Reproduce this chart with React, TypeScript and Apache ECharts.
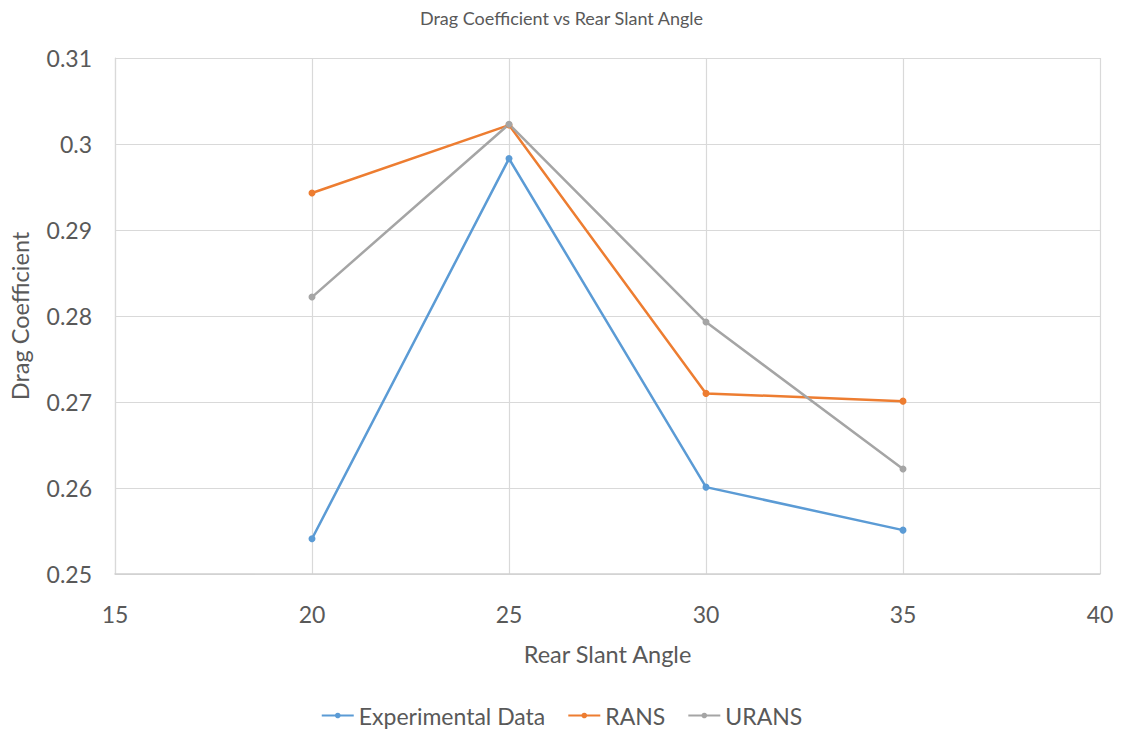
import React, { useEffect, useRef } from "react";
import * as echarts from "echarts";

const angles = [20, 25, 30, 35];
const experimental = [0.2541, 0.2983, 0.2601, 0.2551];
const rans = [0.2943, 0.3022, 0.271, 0.2701];
const urans = [0.2822, 0.3023, 0.2793, 0.2622];

const seriesNames = ["Experimental Data", "RANS", "URANS"];
const seriesColors = ["#5b9bd5", "#ed7d31", "#a5a5a5"];
const seriesValues = [experimental, rans, urans];

const FONT = "Lato, 'Open Sans', sans-serif";
const TEXT_COLOR = "#595959";

export default function App() {
  const ref = useRef<HTMLDivElement>(null);

  useEffect(() => {
    if (!ref.current) return;
    const chart = echarts.init(ref.current, undefined, { renderer: "svg" });
    chart.setOption({
      animation: false,
      backgroundColor: "#ffffff",
      title: {
        text: "Drag Coefficient vs Rear Slant Angle",
        left: "center",
        top: 4,
        textStyle: { fontFamily: FONT, fontSize: 18, fontWeight: "normal", color: TEXT_COLOR },
      },
      legend: {
        bottom: 2,
        left: "center",
        itemWidth: 32,
        itemHeight: 7,
        itemGap: 22,
        textStyle: { fontFamily: FONT, fontSize: 23, color: TEXT_COLOR },
        data: seriesNames,
      },
      grid: { left: 110, right: 23, top: 58, bottom: 160 },
      xAxis: {
        type: "value",
        min: 15,
        max: 40,
        interval: 5,
        name: "Rear Slant Angle",
        nameLocation: "middle",
        nameGap: 68,
        nameTextStyle: { fontFamily: FONT, fontSize: 23.5, color: TEXT_COLOR },
        axisLine: { show: true, lineStyle: { color: "#d0d0d0", width: 1.5 } },
        axisTick: { show: false },
        axisLabel: { fontFamily: FONT, fontSize: 23, color: TEXT_COLOR, margin: 28 },
        splitLine: { show: true, lineStyle: { color: "#d9d9d9", width: 1.2 } },
      },
      yAxis: {
        type: "value",
        min: 0.25,
        max: 0.31,
        interval: 0.01,
        name: "Drag Coefficient",
        nameLocation: "middle",
        nameGap: 83,
        nameTextStyle: { fontFamily: FONT, fontSize: 23.5, color: TEXT_COLOR },
        axisLine: { show: true, lineStyle: { color: "#d9d9d9", width: 1.2 } },
        axisTick: { show: false },
        axisLabel: {
          fontFamily: FONT,
          fontSize: 23,
          color: TEXT_COLOR,
          margin: 23,
          formatter: (v: number) => String(parseFloat(v.toFixed(2))),
        },
        splitLine: { show: true, lineStyle: { color: "#d9d9d9", width: 1.2 } },
      },
      series: seriesNames.map((name, i) => ({
        name,
        type: "line",
        data: angles.map((a, j) => [a, seriesValues[i][j]]),
        symbol: "circle",
        symbolSize: 7,
        lineStyle: { color: seriesColors[i], width: 2.5 },
        itemStyle: { color: seriesColors[i] },
        emphasis: { disabled: true },
      })),
    });
    return () => chart.dispose();
  }, []);

  return (
    <div
      ref={ref}
      style={{ position: "fixed", left: 0, top: 0, width: 1123, height: 734 }}
    />
  );
}
